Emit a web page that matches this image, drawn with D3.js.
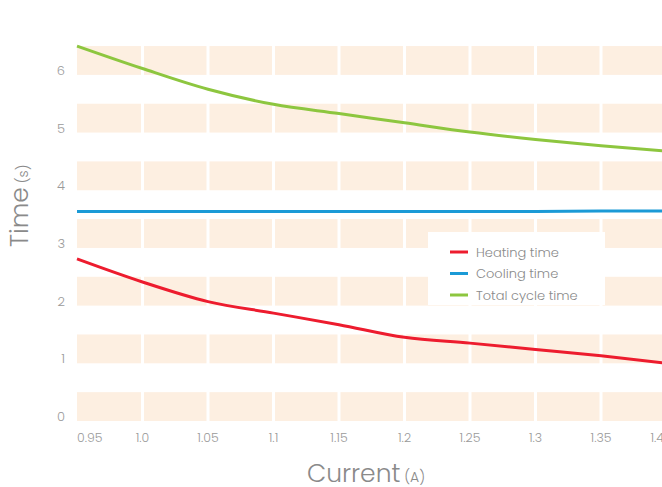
<!DOCTYPE html>
<html>
<head>
<meta charset="utf-8">
<script src="https://cdn.jsdelivr.net/npm/d3@7"></script>
<style>
  body { margin: 0; background: #fff; }
  svg { display: block; font-family: Poppins, Lato, "Open Sans", sans-serif; }
</style>
</head>
<body>
<div id="chart"></div>
<script>
var width = 662
var height = 487

// data
var current = [0.95, 1.0, 1.05, 1.1, 1.15, 1.2, 1.25, 1.3, 1.35, 1.4]
var heating = [2.81, 2.41, 2.07, 1.87, 1.67, 1.45, 1.35, 1.24, 1.13, 1.0]
var cooling = [3.63, 3.63, 3.63, 3.63, 3.63, 3.63, 3.63, 3.63, 3.64, 3.64]
var total = [6.50, 6.11, 5.75, 5.49, 5.33, 5.17, 5.01, 4.88, 4.77, 4.68]
var xTicks = [0.95, 1.0, 1.05, 1.1, 1.15, 1.2, 1.25, 1.3, 1.35, 1.4]
var xTickLabels = ["0.95", "1.0", "1.05", "1.1", "1.15", "1.2", "1.25", "1.3", "1.35", "1.4"]
var yTicks = [0, 1, 2, 3, 4, 5, 6]
var seriesNames = ["Heating time", "Cooling time", "Total cycle time"]
var seriesColors = ["#ed1c2e", "#1b9ad6", "#8dc63f"]

var svg = d3.select("#chart").append("svg")
  .attr("width", width).attr("height", height)

var x = d3.scaleLinear().domain([0.95, 1.4]).range([77, 666.5])
var y = d3.scaleLinear().domain([0, 7]).range([421, 17.2])

// striped bands: one cell per x interval and per integer step
var cells = []
yTicks.forEach(function(v) {
  for (var i = 0; i < xTicks.length - 1; i++) {
    cells.push({ v: v, x0: xTicks[i], x1: xTicks[i + 1], first: i == 0 })
  }
})
svg.append("g").selectAll("rect")
  .data(cells)
  .enter().append("rect")
  .attr("x", function(d) { return x(d.x0) + (d.first ? 0 : 1.5) })
  .attr("y", function(d) { return y(d.v + 0.5) })
  .attr("width", function(d) { return x(d.x1) - x(d.x0) - (d.first ? 1.5 : 3) })
  .attr("height", function(d) { return y(d.v) - y(d.v + 0.5) })
  .style("fill", "#fdefe1")

// y tick labels
svg.append("g").selectAll("text")
  .data(yTicks)
  .enter().append("text")
  .attr("x", 65)
  .attr("y", function(d) { return y(d) })
  .attr("text-anchor", "end")
  .attr("font-size", "13px")
  .attr("font-weight", 300)
  .attr("fill", "#9a9a9a")
  .text(function(d) { return d })

// x tick labels (first and last kept inside)
svg.append("g").selectAll("text")
  .data(xTicks)
  .enter().append("text")
  .attr("x", function(d, i) {
    if (i == 0) return x(d)
    if (i == xTicks.length - 1) return 664
    return x(d)
  })
  .attr("y", 442)
  .attr("text-anchor", function(d, i) {
    return i == 0 ? "start" : (i == xTicks.length - 1 ? "end" : "middle")
  })
  .attr("font-size", "12.5px")
  .attr("font-weight", 300)
  .attr("fill", "#9a9a9a")
  .text(function(d, i) { return xTickLabels[i] })

// lines
var series = [heating, cooling, total]
var line = d3.line()
  .x(function(d, i) { return x(current[i]) })
  .y(function(d) { return y(d) })
  .curve(d3.curveMonotoneX)

svg.append("g").selectAll("path")
  .data(series)
  .enter().append("path")
  .attr("d", function(d) { return line(d) })
  .style("fill", "none")
  .style("stroke", function(d, i) { return seriesColors[i] })
  .style("stroke-width", 3)

// legend
var legend = svg.append("g").attr("transform", "translate(428,232)")
legend.append("rect")
  .attr("width", 177).attr("height", 73)
  .style("fill", "#fff")
var items = legend.selectAll("g.item")
  .data(seriesNames)
  .enter().append("g")
  .attr("class", "item")
  .attr("transform", function(d, i) { return "translate(0," + (20 + i * 21.5) + ")" })
items.append("line")
  .attr("x1", 22).attr("x2", 40)
  .style("stroke", function(d, i) { return seriesColors[i] })
  .style("stroke-width", 3)
items.append("text")
  .attr("x", 48).attr("y", 4.5)
  .attr("font-size", "13px")
  .attr("font-weight", 300)
  .attr("fill", "#8a8a8a")
  .text(function(d) { return d })

// axis titles
var xTitle = svg.append("text")
  .attr("x", 366).attr("y", 482)
  .attr("text-anchor", "middle")
  .attr("font-size", "25px")
  .attr("font-weight", 300)
  .attr("fill", "#8a8a8a")
xTitle.append("tspan").text("Current")
xTitle.append("tspan").attr("font-size", "14px").text(" (A)")

var yTitle = svg.append("text")
  .attr("transform", "translate(28,247) rotate(-90)")
  .attr("text-anchor", "start")
  .attr("font-size", "25px")
  .attr("font-weight", 300)
  .attr("fill", "#8a8a8a")
yTitle.append("tspan").text("Time")
yTitle.append("tspan").attr("font-size", "14px").text(" (s)")
</script>
</body>
</html>
